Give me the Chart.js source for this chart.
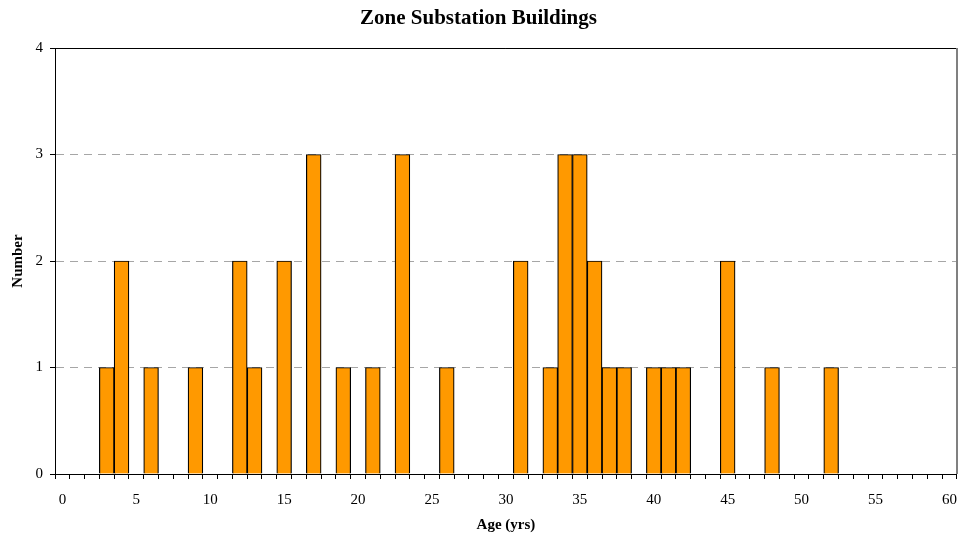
<!DOCTYPE html>
<html>
<head>
<meta charset="utf-8">
<script src="https://cdn.jsdelivr.net/npm/chart.js@4/dist/chart.umd.min.js"></script>
<style>
  html, body { margin: 0; padding: 0; background: #ffffff; }
  canvas { display: block; }
</style>
</head>
<body>
<canvas id="chart" width="964" height="537"></canvas>
<script>
// Age range shown on the category axis (years)
const maxAge = 60;
// Ages that have at least one building, and how many buildings have that age
const ages   = [3, 4, 6, 9, 12, 13, 15, 17, 19, 21, 23, 26, 31, 33, 34, 35, 36, 37, 38, 40, 41, 42, 45, 48, 52];
const counts = [1, 2, 1, 1, 2,  1,  2,  3,  1,  1,  3,  1,  2,  1,  3,  3,  2,  1,  1,  1,  1,  1,  2,  1,  1];
// Value axis range
const yMin = 0, yMax = 4, yStep = 1;

// One category per year, 0..maxAge
const ageLabels = [];
for (let a = 0; a <= maxAge; a++) ageLabels.push(String(a));
const series = ageLabels.map(() => null);
ages.forEach((a, i) => { series[a] = counts[i]; });

const serif = "'Liberation Serif', 'Times New Roman', serif";

// Frame: black top edge and grey right edge of the plot area
const plotFrame = {
  id: 'plotFrame',
  afterDraw(chart) {
    const { ctx, chartArea: a } = chart;
    ctx.save();
    ctx.strokeStyle = '#000000';
    ctx.lineWidth = 1;
    ctx.beginPath();
    ctx.moveTo(a.left, Math.round(a.top) + 0.5);
    ctx.lineTo(a.right, Math.round(a.top) + 0.5);
    ctx.stroke();
    ctx.strokeStyle = '#808080';
    ctx.lineWidth = 2;
    ctx.beginPath();
    ctx.moveTo(Math.round(a.right), a.top);
    ctx.lineTo(Math.round(a.right), a.bottom);
    ctx.stroke();
    ctx.restore();
  }
};

new Chart(document.getElementById('chart'), {
  type: 'bar',
  data: {
    labels: ageLabels,
    datasets: [{
      data: series,
      backgroundColor: '#FF9900',
      borderColor: '#000000',
      borderWidth: 1.2,
      borderSkipped: 'start',
      categoryPercentage: 1.0,
      barPercentage: 1.0
    }]
  },
  options: {
    responsive: false,
    devicePixelRatio: 1,
    animation: false,
    layout: { padding: { left: 0, right: 7, top: 0, bottom: 0 } },
    plugins: {
      legend: { display: false },
      tooltip: { enabled: false },
      title: {
        display: true,
        text: 'Zone Substation Buildings',
        color: '#000000',
        font: { family: serif, size: 21, weight: 'bold' },
        padding: { top: 6, bottom: 16.8 }
      }
    },
    scales: {
      x: {
        type: 'category',
        offset: true,
        afterFit(scale) { scale.height = 63; },
        grid: {
          offset: true,
          drawOnChartArea: false,
          drawTicks: true,
          tickLength: 5,
          tickColor: '#000000',
          tickWidth: 1
        },
        border: { display: true, color: '#000000', width: 1 },
        ticks: {
          autoSkip: false,
          maxRotation: 0,
          minRotation: 0,
          padding: 7,
          color: '#000000',
          font: { family: serif, size: 15, lineHeight: 1.87 },
          callback(value) {
            const a = Number(this.getLabelForValue(value));
            return a % 5 === 0 ? String(a) : '';
          }
        },
        title: {
          display: true,
          text: 'Age (yrs)',
          color: '#000000',
          font: { family: serif, size: 15, weight: 'bold' },
          padding: { top: 0, bottom: 3 }
        }
      },
      y: {
        min: yMin,
        max: yMax,
        afterFit(scale) { scale.width = 55; },
        grid: {
          color: '#a6a6a6',
          lineWidth: 1,
          drawTicks: true,
          tickLength: 5,
          tickColor: '#000000',
          tickWidth: 1,
          tickBorderDash: []
        },
        border: { display: true, color: '#000000', width: 1, dash: [8, 6] },
        ticks: {
          stepSize: yStep,
          padding: 7,
          color: '#000000',
          font: { family: serif, size: 15 }
        },
        title: {
          display: true,
          text: 'Number',
          color: '#000000',
          font: { family: serif, size: 15, weight: 'bold' },
          padding: { top: 9, bottom: 0 }
        }
      }
    }
  },
  plugins: [plotFrame]
});
</script>
</body>
</html>
